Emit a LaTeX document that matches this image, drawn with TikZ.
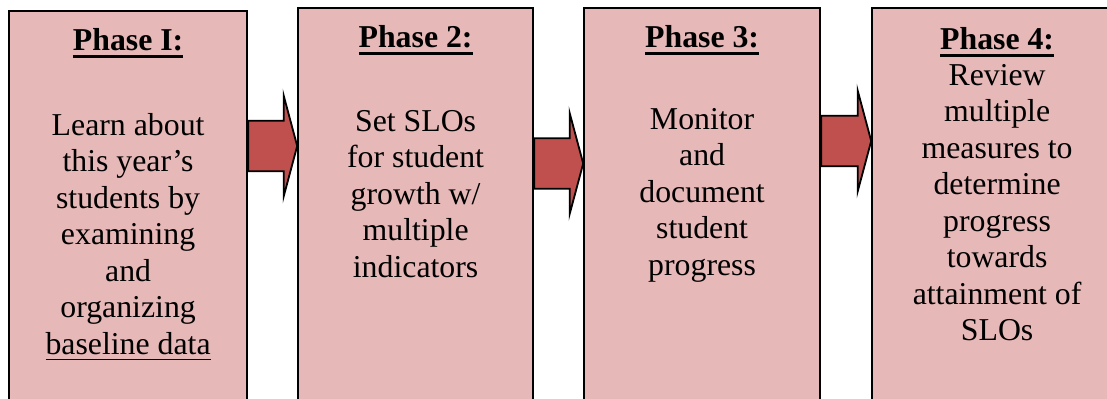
\documentclass[tikz,border=0pt]{standalone}
\usepackage{fontspec}
\setmainfont{Liberation Serif}
\usetikzlibrary{shapes.arrows}
\definecolor{boxpink}{HTML}{E6B8B7}
\definecolor{arrowred}{HTML}{C0504D}
\newcommand{\ulphase}[3]{\setbox0\hbox{#3}\rlap{\rule[-#1]{\wd0}{#2}}\box0}
\tikzset{
  phasebox/.style={draw=black, line width=1.1pt, fill=boxpink, anchor=north west, inner sep=0pt, minimum height=215pt},
  phasetitle/.style={anchor=base, inner sep=0pt, font=\fontsize{15.9pt}{18.25pt}\selectfont\bfseries},
  phasetext/.style={anchor=north, inner sep=0pt, align=center, font=\fontsize{15.9pt}{18.25pt}\selectfont},
  flowarrow/.style={single arrow, draw=black, fill=arrowred, line width=0.9pt, inner xsep=0pt, inner ysep=12.2pt,
    outer sep=0pt, minimum height=24.5pt, minimum width=50pt, single arrow head extend=12.6pt, single arrow tip angle=150, anchor=tail}
}
\begin{document}
\begin{tikzpicture}[x=0.5pt, y=-0.5pt]

\path[use as bounding box, clip] (0,0) rectangle (1107,398);

\node[phasebox, minimum width=119pt] (b1) at (8,10) {};
\node[phasebox, minimum width=117.5pt] (b2) at (297,7) {};
\node[phasebox, minimum width=118pt] (b3) at (583,7) {};
\node[phasebox, minimum width=125pt] (b4) at (871,7) {};

\node[phasetitle] (t1) at (b1.north |- 0,50) {\ulphase{3.75pt}{1.5pt}{Phase I:}};
\node[phasetitle] (t2) at (b2.north |- 0,47) {\ulphase{3.75pt}{1.5pt}{Phase 2:}};
\node[phasetitle] (t3) at (b3.north |- 0,47) {\ulphase{3.75pt}{1.5pt}{Phase 3:}};
\node[phasetitle] (t4) at (b4.north |- 0,49) {\ulphase{3.75pt}{1.5pt}{Phase 4:}};

\node[phasetext] (p1) at (b1.north |- 0,113) {Learn about\\this year’s\\students by\\examining\\and\\organizing\\\ulphase{3pt}{0.9pt}{baseline data}};
\node[phasetext] (p2) at (b2.north |- 0,110) {Set SLOs\\for student\\growth w/\\multiple\\indicators};
\node[phasetext] (p3) at (b3.north |- 0,108) {Monitor\\and\\document\\student\\progress};
\node[phasetext] (p4) at (b4.north |- 0,64) {Review\\multiple\\measures to\\determine\\progress\\towards\\attainment of\\SLOs};

\node[flowarrow] (a1) at (b1.east |- 0,146) {};
\node[flowarrow] (a2) at (b2.east |- 0,163.5) {};
\node[flowarrow, minimum height=25pt] (a3) at (b3.east |- 0,141) {};

\end{tikzpicture}
\end{document}
